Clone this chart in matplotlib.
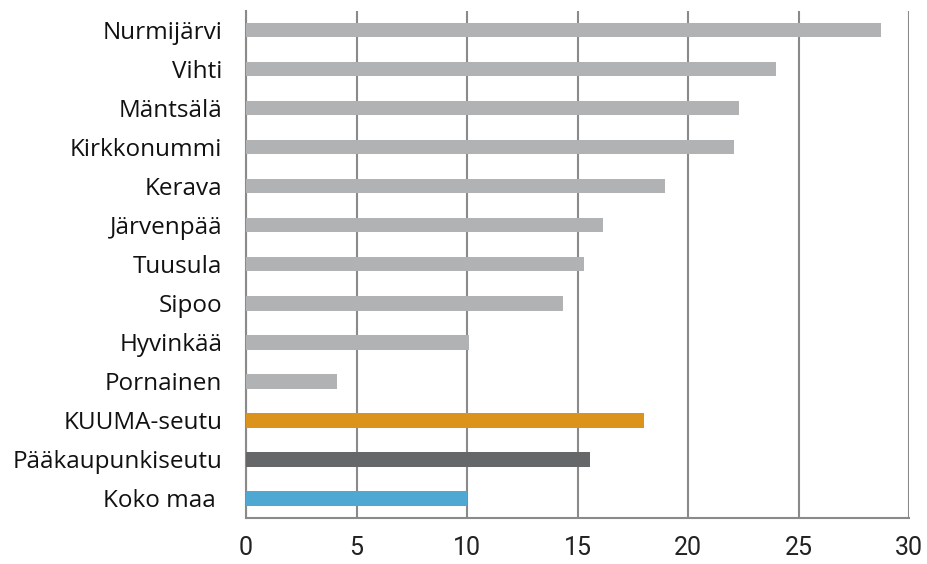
import matplotlib
matplotlib.use("Agg")
import matplotlib.pyplot as plt

# Data (top to bottom)
areas = ["Nurmijärvi", "Vihti", "Mäntsälä", "Kirkkonummi", "Kerava", "Järvenpää",
         "Tuusula", "Sipoo", "Hyvinkää", "Pornainen", "KUUMA-seutu",
         "Pääkaupunkiseutu", "Koko maa "]
values = [28.75, 23.98, 22.31, 22.07, 18.97, 16.16, 15.31, 14.33, 10.08, 4.14,
          18.01, 15.57, 10.0]
bar_colors = ["#b1b2b4"] * 10 + ["#dc931b", "#666769", "#4fa8d1"]
xticks = [0, 5, 10, 15, 20, 25, 30]

fig = plt.figure(figsize=(9.27, 5.64), dpi=100)
ax = fig.add_axes([246 / 927, 1 - 518 / 564, (909 - 246) / 927, (518 - 10.5) / 564])

ypos = list(range(len(areas)))
ax.barh(ypos, values, height=0.37, color=bar_colors, zorder=3)

ax.set_xlim(0, 30)
ax.set_ylim(len(areas) - 0.5, -0.5)
ax.set_xticks(xticks)
ax.set_xticklabels([str(t) for t in xticks], fontsize=18,
                   family=["Roboto", "DejaVu Sans"], color="#222222")
ax.set_yticks(ypos)
ax.set_yticklabels(areas, fontsize=17.5, family=["Open Sans", "DejaVu Sans"], color="#111111")
ax.tick_params(axis="both", length=0)
ax.tick_params(axis="x", pad=13)
ax.tick_params(axis="y", pad=17)

ax.grid(axis="x", color="#8a8a8a", linewidth=1.5, zorder=0)
ax.grid(axis="y", visible=False)
for side in ["left", "bottom"]:
    ax.spines[side].set_color("#8a8a8a")
    ax.spines[side].set_linewidth(1.5)
ax.spines["top"].set_visible(False)
ax.spines["right"].set_visible(False)

fig.savefig("out.png", dpi=100)
